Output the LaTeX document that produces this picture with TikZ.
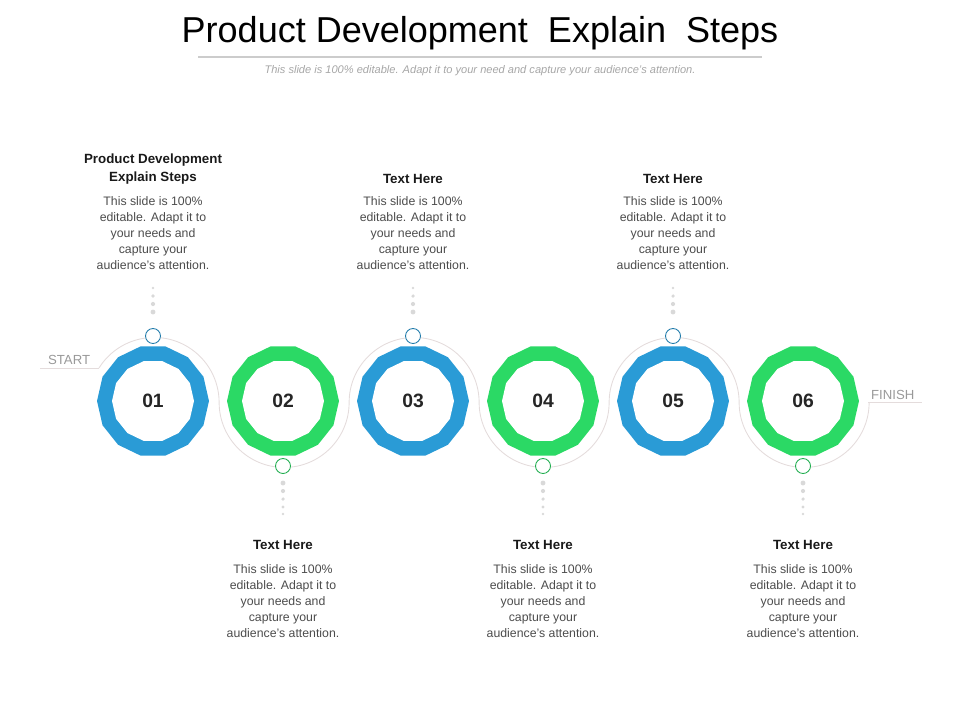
\documentclass[tikz,border=0pt]{standalone}
\usepackage{fontspec}
\setmainfont{Liberation Sans}
\usetikzlibrary{shapes.geometric}
\definecolor{stepblue}{HTML}{2A9BD6}
\definecolor{stepgreen}{HTML}{2BD965}
\definecolor{wavegray}{HTML}{E4DCDC}
\tikzset{
  ring/.style={regular polygon, regular polygon sides=14, minimum size=2.24cm, inner sep=0pt},
  hole/.style={regular polygon, regular polygon sides=14, minimum size=1.64cm, fill=white, inner sep=0pt,
    font=\bfseries\fontsize{11}{13}\selectfont, text=black!85},
  knob/.style={circle, draw, fill=white, minimum size=0.30cm, inner sep=0pt, line width=0.5pt},
  head/.style={font=\bfseries\fontsize{7.6}{10.6}\selectfont, align=center, text=black!90},
  body/.style={font=\fontsize{7}{9.1}\selectfont, align=center, text=black!70},
  dot/.style={circle, fill=black!15, inner sep=0pt},
}
\begin{document}
\begin{tikzpicture}[x=0.02cm, y=-0.02cm]
  \useasboundingbox (0,0) rectangle (960,720);
  % title
  \node (title) at (480,33) {\fontsize{20.5}{24}\selectfont Product Development\ \ Explain\ \ Steps};
  \draw[black!20, line width=0.6pt] (198,57) -- (762,57);
  \node (sub) at (480,71) {\fontsize{6.3}{8}\selectfont\itshape\color{black!35}This slide is 100\% editable. Adapt it to your need and capture your audience’s attention.};

  % wave
  \draw[wavegray, line width=0.5pt] (40,368) -- (99,368);
  \draw[wavegray, line width=0.5pt] (99,368) arc[start angle=212, end angle=360, radius=65]
    arc[start angle=180, end angle=0, radius=65]
    arc[start angle=180, end angle=360, radius=65]
    arc[start angle=180, end angle=0, radius=65]
    arc[start angle=180, end angle=360, radius=65]
    arc[start angle=180, end angle=0, radius=65];
  \draw[wavegray, line width=0.5pt] (868,402) -- (922,402);
  \node[anchor=south west, inner sep=1pt, font=\fontsize{7.5}{9}\selectfont, text=black!40] (start) at (46,367) {START};
  \node[anchor=south west, inner sep=1pt, font=\fontsize{7.5}{9}\selectfont, text=black!40] (finish) at (869,402) {FINISH};

  % steps
  \foreach \i/\c in {1/stepblue,2/stepgreen,3/stepblue,4/stepgreen,5/stepblue,6/stepgreen} {
    \pgfmathsetmacro{\cx}{153+130*(\i-1)}
    \node[ring, fill=\c] (r\i) at (\cx,401) {};
    \node[hole] (n\i) at (\cx,401) {0\i};
  }
  \foreach \i in {1,3,5} {
    \pgfmathsetmacro{\cx}{153+130*(\i-1)}
    \node[knob, draw=stepblue!80!black] (k\i) at (\cx,336) {};
    \foreach \y/\s in {288/1.6,296/2,304/2.4,312/2.8} \node[dot, minimum size=\s pt] at (\cx,\y) {};
  }
  \foreach \i in {2,4,6} {
    \pgfmathsetmacro{\cx}{153+130*(\i-1)}
    \node[knob, draw=stepgreen!80!black] (k\i) at (\cx,466) {};
    \foreach \y/\s in {483/2.8,491/2.4,499/2,507/1.8,514/1.6} \node[dot, minimum size=\s pt] at (\cx,\y) {};
  }

  % texts
  \node[head] (h1) at (153,169) {Product Development\\Explain Steps};
  \node[body, anchor=north] (b1) at (153,190) {This slide is 100\%\\editable. Adapt it to\\your needs and\\capture your\\audience's attention.};
  \foreach \i in {3,5} {
    \pgfmathsetmacro{\cx}{153+130*(\i-1)}
    \node[head] (h\i) at (\cx,179) {Text Here};
    \node[body, anchor=north] (b\i) at (\cx,190) {This slide is 100\%\\editable. Adapt it to\\your needs and\\capture your\\audience's attention.};
  }
  \foreach \i in {2,4,6} {
    \pgfmathsetmacro{\cx}{153+130*(\i-1)}
    \node[head] (h\i) at (\cx,545) {Text Here};
    \node[body, anchor=north] (b\i) at (\cx,558) {This slide is 100\%\\editable. Adapt it to\\your needs and\\capture your\\audience's attention.};
  }
\end{tikzpicture}
\end{document}
